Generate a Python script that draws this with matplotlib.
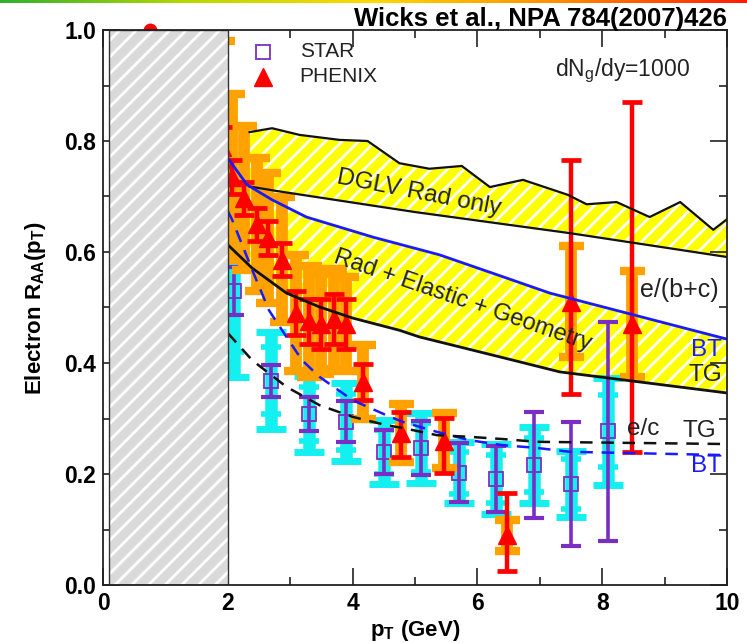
import matplotlib
matplotlib.use("Agg")
import matplotlib.pyplot as plt
import numpy as np
from matplotlib.patches import Rectangle
from matplotlib.ticker import MultipleLocator
from matplotlib.colors import LinearSegmentedColormap

plt.rcParams['font.family'] = ['Liberation Sans', 'DejaVu Sans']
plt.rcParams['mathtext.fontset'] = 'custom'
plt.rcParams['mathtext.rm'] = 'Liberation Sans'
plt.rcParams['mathtext.it'] = 'Liberation Sans'
plt.rcParams['mathtext.bf'] = 'Liberation Sans:bold'
plt.rcParams['mathtext.default'] = 'regular'
plt.rcParams['hatch.linewidth'] = 2.0

# ---------------- data ----------------
# PHENIX (red triangles, orange systematic bars)
phx_x = [1.90, 2.07, 2.26, 2.47, 2.65, 2.87, 3.10, 3.30, 3.50, 3.70, 3.90, 4.16, 4.78, 5.47, 6.48, 7.50, 8.47]
phx_y = [0.79, 0.735, 0.697, 0.650, 0.625, 0.586, 0.490, 0.475, 0.470, 0.480, 0.470, 0.366, 0.274, 0.260, 0.090, 0.510, 0.470]
phx_stat_lo = [0.035, 0.03, 0.03, 0.03, 0.03, 0.03, 0.04, 0.04, 0.045, 0.045, 0.045, 0.033, 0.043, 0.058, 0.065, 0.165, 0.23]
phx_stat_hi = [0.035, 0.03, 0.03, 0.03, 0.03, 0.03, 0.04, 0.04, 0.045, 0.045, 0.045, 0.033, 0.038, 0.041, 0.075, 0.255, 0.40]
phx_sys = [0.19, 0.15, 0.13, 0.12, 0.117, 0.113, 0.105, 0.10, 0.09, 0.09, 0.085, 0.066, 0.053, 0.05, 0.028, 0.10, 0.095]

# STAR (open squares, cyan systematic bars)
star_x = [2.1, 2.7, 3.3, 3.9, 4.5, 5.1, 5.7, 6.3, 6.9, 7.5, 8.1]
star_y = [0.530, 0.368, 0.308, 0.294, 0.240, 0.247, 0.202, 0.191, 0.216, 0.182, 0.277]
star_stat = [0.043, 0.029, 0.030, 0.037, 0.040, 0.049, 0.053, 0.060, 0.095, 0.112, 0.197]
star_sys_out = [0.155, 0.087, 0.068, 0.070, 0.058, 0.063, 0.055, 0.063, 0.068, 0.060, 0.096]
star_sys_in = [0.11, 0.06, 0.048, 0.050, 0.040, 0.044, 0.038, 0.044, 0.048, 0.045, 0.065]

# off-scale point peeking above the frame
off_x = [0.75]
off_y = [1.0]

# DGLV radiative-only band
dglv_up_x = [2.35, 2.71, 3.15, 3.79, 4.24, 4.75, 5.23, 5.75, 6.20, 6.73, 7.45, 7.75, 8.23, 8.76, 9.25, 9.78, 10.0]
dglv_up_y = [0.816, 0.823, 0.811, 0.802, 0.800, 0.760, 0.750, 0.755, 0.717, 0.730, 0.703, 0.686, 0.690, 0.663, 0.690, 0.640, 0.659]
dglv_lo_x = [2.35, 2.78, 5.00, 7.48, 10.0]
dglv_lo_y = [0.718, 0.710, 0.672, 0.634, 0.591]

# Rad + Elastic + Geometry band: e/(b+c), BT (upper) and TG (lower)
bc_bt_x = [2.0, 2.31, 2.71, 3.26, 4.32, 5.39, 6.47, 7.16, 10.0]
bc_bt_y = [0.769, 0.721, 0.694, 0.663, 0.627, 0.595, 0.553, 0.526, 0.443]
bc_tg_x = [2.0, 2.39, 2.94, 3.47, 4.00, 4.75, 5.07, 6.36, 7.32, 10.0]
bc_tg_y = [0.613, 0.571, 0.526, 0.501, 0.481, 0.459, 0.447, 0.411, 0.384, 0.346]

# e/c curves
c_bt_x = [2.0, 2.07, 2.39, 2.66, 2.94, 3.19, 3.47, 4.00, 4.54, 4.80, 5.35, 5.87, 6.40, 6.95, 7.48, 10.0]
c_bt_y = [0.674, 0.658, 0.568, 0.495, 0.447, 0.405, 0.375, 0.333, 0.306, 0.294, 0.276, 0.261, 0.252, 0.247, 0.240, 0.234]
c_tg_x = [2.0, 2.39, 2.94, 3.47, 4.00, 4.54, 4.80, 5.35, 5.87, 6.40, 6.95, 10.0]
c_tg_y = [0.454, 0.405, 0.357, 0.324, 0.303, 0.288, 0.283, 0.270, 0.267, 0.263, 0.258, 0.254]

x_ticks = [0, 2, 4, 6, 8, 10]
y_ticks = [0.0, 0.2, 0.4, 0.6, 0.8, 1.0]

# ---------------- colours ----------------
RED = '#ff0000'
ORANGE = '#ffa200'
PURPLE = '#7a2ec4'
CYAN = '#14f0f0'
TURQ = '#40d8d0'
BLUE = '#1a1aff'
YELLOW = '#ffff00'
INK = '#222222'

fig = plt.figure(figsize=(7.47, 6.43), dpi=100)
ax = fig.add_axes([103/747, 1-585/643, 624/747, 555/643])

# top gradient strip
gax = fig.add_axes([0, 1-3/643, 1, 3/643])
cmap = LinearSegmentedColormap.from_list('g', ['#30b030', '#b8d800', '#ffd800', '#ff8c00', '#ff1a00'])
gax.imshow(np.linspace(0, 1, 256)[None, :], aspect='auto', cmap=cmap)
gax.axis('off')

# bands
up_x = np.array(dglv_up_x)
lo_on_up = np.interp(up_x, dglv_lo_x, dglv_lo_y)
ax.fill_between(up_x, lo_on_up, dglv_up_y, facecolor=YELLOW, edgecolor='white', hatch='//', lw=0, zorder=1)
ax.plot(dglv_up_x, dglv_up_y, color='#111111', lw=1.6, zorder=7)
ax.plot(dglv_lo_x, dglv_lo_y, color='#111111', lw=1.6, zorder=7)

xx = np.array(sorted(set(bc_bt_x) | set(bc_tg_x)))
ax.fill_between(xx, np.interp(xx, bc_tg_x, bc_tg_y), np.interp(xx, bc_bt_x, bc_bt_y),
                facecolor=YELLOW, edgecolor='white', hatch='//', lw=0, zorder=1)

# STAR
eb = ax.errorbar(star_x, star_y, yerr=star_sys_out, fmt='none', ecolor=CYAN, elinewidth=9,
                 capsize=11, capthick=5, zorder=3)
for cl in eb[1]:
    cl.set_color(TURQ)
ax.errorbar(star_x, star_y, yerr=star_sys_in, fmt='none', ecolor=CYAN, elinewidth=0,
            capsize=7.5, capthick=4, zorder=3.1)
ax.errorbar(star_x, star_y, yerr=star_stat, fmt='none', ecolor=PURPLE, elinewidth=2.6,
            capsize=7, capthick=3, zorder=4)
ax.plot(star_x, star_y, 's', ms=10, mfc='none', mec=PURPLE, mew=1.3, zorder=4.2)

# PHENIX
ax.errorbar(phx_x, phx_y, yerr=phx_sys, fmt='none', ecolor=ORANGE, elinewidth=8.5,
            capsize=9, capthick=6, zorder=5)
ax.errorbar(phx_x, phx_y, yerr=[phx_stat_lo, phx_stat_hi], fmt='none', ecolor=RED, elinewidth=3.2,
            capsize=7, capthick=3.4, zorder=5.5)
ax.plot(phx_x, phx_y, '^', ms=13, color=RED, mec=RED, zorder=5.6)
ax.plot(off_x, off_y, 'o', ms=9, color=RED, zorder=5.6, clip_on=False)

# theory lines
ax.plot(bc_bt_x, bc_bt_y, color=BLUE, lw=2.0, zorder=7)
ax.plot(bc_tg_x, bc_tg_y, color='#111111', lw=2.0, zorder=7)
ax.plot(c_bt_x, c_bt_y, color=BLUE, lw=1.8, ls=(0, (5, 3.5)), zorder=7)
ax.plot(c_tg_x, c_tg_y, color='#111111', lw=1.8, ls=(0, (5, 3.5)), zorder=7)

# hatched excluded region
ax.add_patch(Rectangle((0.1, 0.0), 1.9, 1.0, facecolor='#dadada', edgecolor='white', hatch='//', lw=0, zorder=8))
ax.add_patch(Rectangle((0.1, 0.0), 1.9, 1.0, fill=False, edgecolor='#333333', lw=1.0, zorder=8.1))

# axes
ax.set_xlim(0, 10)
ax.set_ylim(0, 1.0)
ax.set_xticks(x_ticks)
ax.set_yticks(y_ticks)
ax.set_xticklabels([str(t) for t in x_ticks])
ax.set_yticklabels(['%.1f' % t for t in y_ticks])
ax.xaxis.set_minor_locator(MultipleLocator(1))
ax.yaxis.set_minor_locator(MultipleLocator(0.1))
ax.tick_params(which='both', direction='in', top=True, right=True, width=1.2, color=INK)
ax.tick_params(which='major', length=12, labelsize=16.5, pad=5)
ax.tick_params(which='minor', length=6)
for lab in ax.get_xticklabels() + ax.get_yticklabels():
    lab.set_fontweight('bold')
for s in ax.spines.values():
    s.set_linewidth(1.3)
    s.set_color(INK)
    s.set_zorder(9)

ax.set_xlabel(r'$\mathbf{p_T}$ (GeV)', fontsize=16, fontweight='bold', labelpad=2)
ax.set_ylabel(r'Electron $\mathbf{R_{AA}(p_T)}$', fontsize=16, fontweight='bold', labelpad=12)

# legend (manual)
ax.plot([2.57], [0.96], 's', ms=10, mfc='none', mec=PURPLE, mew=1.3, clip_on=False, zorder=9)
ax.plot([2.57], [0.915], '^', ms=13, color=RED, clip_on=False, zorder=9)
ax.text(3.15, 0.962, 'STAR', fontsize=15, va='center', color=INK, zorder=9)
ax.text(3.15, 0.917, 'PHENIX', fontsize=15, va='center', color=INK, zorder=9)
ax.text(7.25, 0.927, r'dN$_g$/dy=1000', fontsize=16.5, va='center', color=INK, zorder=9)

# curve labels
ax.text(5.06, 0.706, 'DGLV Rad only', fontsize=17.5, rotation=-11, ha='center', va='center', color=INK, zorder=9)
ax.text(5.76, 0.512, 'Rad + Elastic + Geometry', fontsize=17, rotation=-19, ha='center', va='center', color=INK, zorder=9)
ax.text(8.6, 0.531, 'e/(b+c)', fontsize=18, ha='left', va='center', color=INK, zorder=9)
ax.text(9.92, 0.423, 'BT', fontsize=17.5, ha='right', va='center', color=BLUE, zorder=9)
ax.text(9.92, 0.378, 'TG', fontsize=17.5, ha='right', va='center', color=INK, zorder=9)
ax.text(8.4, 0.281, 'e/c', fontsize=17.5, ha='left', va='center', color=INK, zorder=9)
ax.text(9.82, 0.277, 'TG', fontsize=17.5, ha='right', va='center', color=INK, zorder=9)
ax.text(9.92, 0.214, 'BT', fontsize=17.5, ha='right', va='center', color=BLUE, zorder=9)

fig.text(727/747, 1-19/643, 'Wicks et al., NPA 784(2007)426', ha='right', va='center',
         fontsize=18.5, fontweight='bold', color='black')

fig.savefig('out.png', dpi=100)
